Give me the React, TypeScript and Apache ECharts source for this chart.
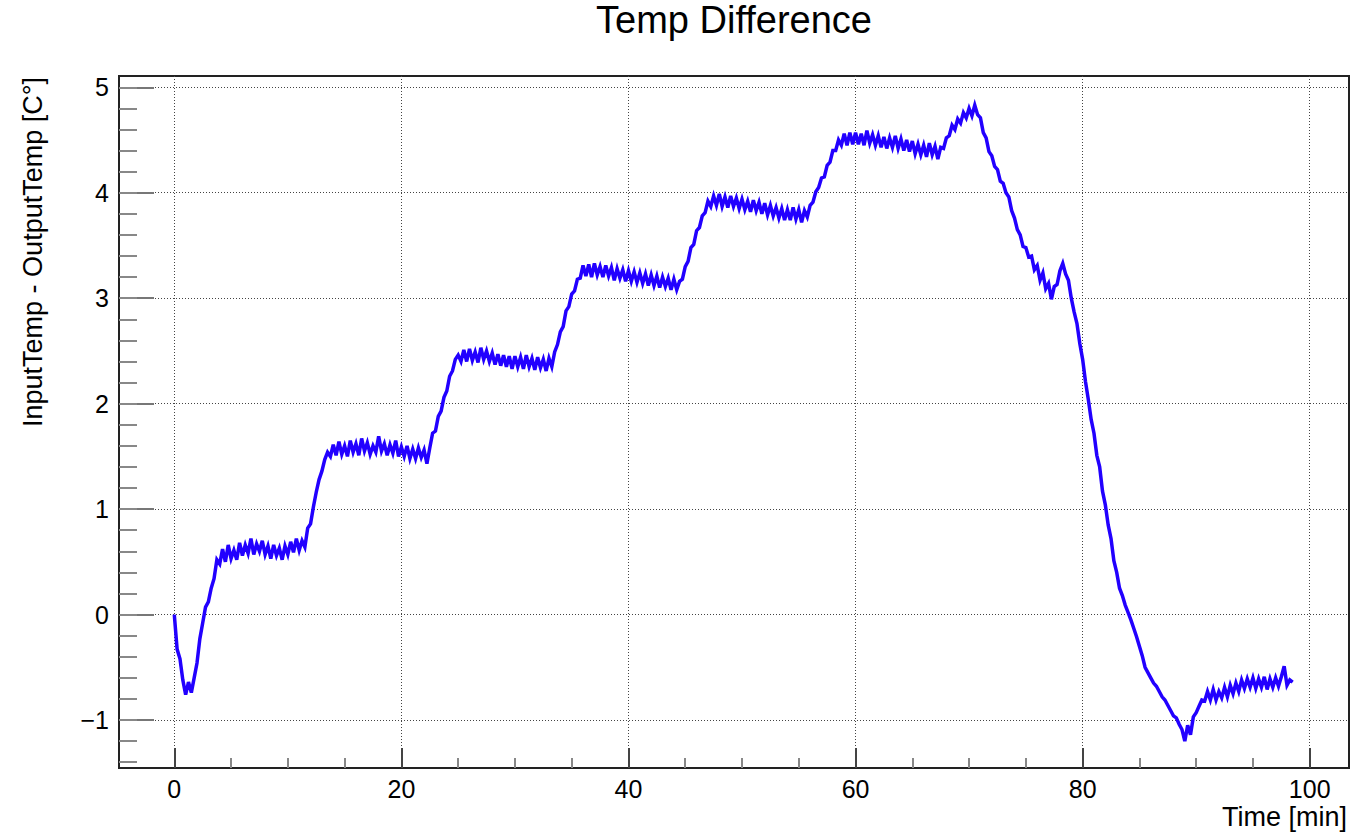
import React, { useEffect, useRef } from 'react';
import * as echarts from 'echarts';

// ---------------- data ----------------
const CHART_TITLE = 'Temp Difference';
const X_TITLE = 'Time [min]';
const Y_TITLE = 'InputTemp - OutputTemp [C°]';

// one sample every 0.25 min, starting at t = 0
const SAMPLE_STEP_MIN = 0.25;

const diff_00_10 = [
  0.0, -0.33, -0.42, -0.62, -0.76, -0.64, -0.74, -0.6, -0.46, -0.23,
  -0.08, 0.07, 0.12, 0.25, 0.34, 0.52, 0.48, 0.62, 0.5, 0.66,
  0.53, 0.61, 0.52, 0.68, 0.56, 0.66, 0.58, 0.72, 0.57, 0.67,
  0.6, 0.7, 0.57, 0.65, 0.53, 0.66, 0.56, 0.63, 0.52, 0.65,
];
const diff_10_20 = [
  0.57, 0.69, 0.59, 0.72, 0.61, 0.7, 0.64, 0.82, 0.86, 1.02,
  1.16, 1.28, 1.36, 1.47, 1.54, 1.5, 1.61, 1.51, 1.64, 1.52,
  1.6, 1.5, 1.65, 1.54, 1.62, 1.51, 1.67, 1.55, 1.63, 1.52,
  1.6, 1.54, 1.69, 1.55, 1.62, 1.51, 1.61, 1.53, 1.65, 1.5,
];
const diff_20_30 = [
  1.59, 1.5, 1.6, 1.48, 1.57, 1.48, 1.58, 1.49, 1.56, 1.43,
  1.58, 1.72, 1.74, 1.88, 1.93, 2.06, 2.12, 2.26, 2.31, 2.42,
  2.46, 2.4, 2.51, 2.4, 2.52, 2.41, 2.49, 2.39, 2.53, 2.42,
  2.5, 2.4, 2.48, 2.37, 2.47, 2.36, 2.46, 2.35, 2.45, 2.33,
];
const diff_30_40 = [
  2.45, 2.35, 2.44, 2.33, 2.46, 2.35, 2.43, 2.32, 2.44, 2.34,
  2.42, 2.31, 2.43, 2.35, 2.49, 2.56, 2.68, 2.73, 2.88, 2.92,
  3.04, 3.07, 3.18, 3.19, 3.31, 3.21, 3.32, 3.2, 3.33, 3.22,
  3.3, 3.2, 3.31, 3.21, 3.29, 3.17, 3.28, 3.19, 3.27, 3.16,
];
const diff_40_50 = [
  3.26, 3.16, 3.25, 3.15, 3.24, 3.14, 3.23, 3.12, 3.22, 3.12,
  3.21, 3.1, 3.2, 3.11, 3.19, 3.08, 3.18, 3.08, 3.16, 3.18,
  3.3, 3.35, 3.48, 3.51, 3.64, 3.67, 3.78, 3.81, 3.92, 3.87,
  3.97, 3.88, 3.99, 3.87, 3.96, 3.86, 3.97, 3.87, 3.95, 3.85,
];
const diff_50_60 = [
  3.94, 3.84, 3.92, 3.82, 3.93, 3.83, 3.91, 3.8, 3.9, 3.79,
  3.88, 3.78, 3.86, 3.76, 3.85, 3.74, 3.84, 3.74, 3.86, 3.75,
  3.84, 3.72, 3.83, 3.77, 3.88, 3.91, 4.01, 4.05, 4.14, 4.15,
  4.26, 4.29, 4.4, 4.4, 4.5, 4.45, 4.56, 4.45, 4.57, 4.46,
];
const diff_60_70 = [
  4.57, 4.46, 4.56, 4.45, 4.59, 4.47, 4.55, 4.45, 4.54, 4.43,
  4.53, 4.42, 4.52, 4.43, 4.54, 4.42, 4.51, 4.4, 4.5, 4.39,
  4.49, 4.37, 4.46, 4.36, 4.45, 4.34, 4.47, 4.36, 4.44, 4.32,
  4.43, 4.42, 4.52, 4.54, 4.64, 4.6, 4.7, 4.66, 4.76, 4.71,
];
const diff_70_80 = [
  4.8, 4.73, 4.83, 4.74, 4.71, 4.57, 4.52, 4.39, 4.35, 4.25,
  4.22, 4.11, 4.09, 4.0, 3.96, 3.83, 3.76, 3.65, 3.6, 3.49,
  3.48, 3.39, 3.4, 3.27, 3.31, 3.17, 3.24, 3.09, 3.14, 2.99,
  3.11, 3.13, 3.26, 3.33, 3.23, 3.17, 3.0, 2.87, 2.76, 2.57,
];
const diff_80_90 = [
  2.42, 2.21, 2.04, 1.85, 1.72, 1.51, 1.4, 1.17, 1.04, 0.85,
  0.72, 0.51, 0.4, 0.25, 0.18, 0.09, 0.02, -0.05, -0.13, -0.21,
  -0.3, -0.39, -0.5, -0.55, -0.6, -0.65, -0.68, -0.73, -0.78, -0.81,
  -0.86, -0.91, -0.96, -0.98, -1.04, -1.09, -1.2, -1.05, -1.14, -0.97,
];
const diff_90_985 = [
  -0.93, -0.87, -0.81, -0.82, -0.73, -0.81, -0.71, -0.81, -0.73, -0.79,
  -0.69, -0.78, -0.67, -0.75, -0.65, -0.73, -0.62, -0.7, -0.61, -0.69,
  -0.6, -0.7, -0.61, -0.69, -0.59, -0.71, -0.61, -0.69, -0.6, -0.68,
  -0.59, -0.49, -0.67, -0.62, -0.64,
];

const X_MAJOR_TICKS = [0, 20, 40, 60, 80, 100];
const Y_MAJOR_TICKS = [-1, 0, 1, 2, 3, 4, 5];
const Y_MINOR_RANGE = [-1.4, 5];
const Y_MINOR_STEP = 0.2;
const X_VIEW = [-4.87, 103.46];
const Y_VIEW = [-1.455, 5.107];

// ---------------- layout ----------------
const W = 1362;
const H = 833;
const FRAME = { left: 119, top: 76, right: 1349, bottom: 768 };
const FONT = "'Liberation Sans', Arial, Helvetica, sans-serif";
const LINE_COLOR = '#2200ff';

const px = (x: number) =>
  FRAME.left + ((x - X_VIEW[0]) / (X_VIEW[1] - X_VIEW[0])) * (FRAME.right - FRAME.left);
const py = (y: number) =>
  FRAME.bottom - ((y - Y_VIEW[0]) / (Y_VIEW[1] - Y_VIEW[0])) * (FRAME.bottom - FRAME.top);

const fmt = (v: number) => (v < 0 ? '\u2212' + Math.abs(v) : String(v));

export default function App() {
  const ref = useRef<HTMLDivElement>(null);

  useEffect(() => {
    if (!ref.current) return;
    const chart = echarts.init(ref.current, undefined, { renderer: 'svg' });

    const values = [
      ...diff_00_10, ...diff_10_20, ...diff_20_30, ...diff_30_40, ...diff_40_50,
      ...diff_50_60, ...diff_60_70, ...diff_70_80, ...diff_80_90, ...diff_90_985,
    ];
    const data = values.map((v, i) => [i * SAMPLE_STEP_MIN, v]);

    const xMin = X_MAJOR_TICKS[0];
    const xMax = X_MAJOR_TICKS[X_MAJOR_TICKS.length - 1];
    const yMin = Y_MAJOR_TICKS[0];
    const yMax = Y_MAJOR_TICKS[Y_MAJOR_TICKS.length - 1];

    const frameW = FRAME.right - FRAME.left;
    const frameH = FRAME.bottom - FRAME.top;

    const dotted = { color: '#444', width: 1, type: [1, 2] as any };
    const hidden = (gridIndex: number) => ({
      type: 'value' as const, gridIndex, min: 0, max: 1, show: false,
      axisLine: { onZero: false },
    });

    chart.setOption({
      animation: false,
      backgroundColor: '#fff',
      grid: [
        { left: FRAME.left, top: FRAME.top, width: frameW, height: frameH, show: true,
          borderColor: '#222', borderWidth: 2, backgroundColor: 'transparent', outerBoundsMode: 'none' },
        { left: px(xMin), top: FRAME.top, width: px(xMax) - px(xMin), height: frameH, outerBoundsMode: 'none' },
        { left: FRAME.left, top: py(yMax), width: frameW, height: py(yMin) - py(yMax), outerBoundsMode: 'none' },
        { left: FRAME.left, top: py(Y_MINOR_RANGE[1]), width: frameW,
          height: py(Y_MINOR_RANGE[0]) - py(Y_MINOR_RANGE[1]), outerBoundsMode: 'none' },
      ],
      xAxis: [
        { type: 'value', gridIndex: 0, min: X_VIEW[0], max: X_VIEW[1], show: false, axisLine: { onZero: false } },
        {
          type: 'value', gridIndex: 1, min: xMin, max: xMax, interval: 20,
          axisLine: { show: false, onZero: false },
          axisTick: { show: true, inside: true, length: 20, lineStyle: { color: '#444', width: 2 } },
          minorTick: { show: true, splitNumber: 4, length: 10, lineStyle: { color: '#888', width: 2 } },
          axisLabel: { show: true, margin: 11, color: '#000', fontFamily: FONT, fontSize: 25, lineHeight: 20 },
          splitLine: { show: true, lineStyle: dotted },
        },
        hidden(2),
        hidden(3),
      ],
      yAxis: [
        { type: 'value', gridIndex: 0, min: Y_VIEW[0], max: Y_VIEW[1], show: false, axisLine: { onZero: false } },
        hidden(1),
        {
          type: 'value', gridIndex: 2, min: yMin, max: yMax, interval: 1,
          axisLine: { show: false, onZero: false },
          axisTick: { show: true, inside: true, length: 35, lineStyle: { color: '#777', width: 2 } },
          axisLabel: { show: true, margin: 10, color: '#000', fontFamily: FONT, fontSize: 25, formatter: fmt },
          splitLine: { show: true, lineStyle: dotted },
        },
        {
          type: 'value', gridIndex: 3, min: Y_MINOR_RANGE[0], max: Y_MINOR_RANGE[1], interval: Y_MINOR_STEP,
          axisLine: { show: false, onZero: false },
          axisTick: { show: true, inside: true, length: 18, lineStyle: { color: '#888', width: 2 } },
          axisLabel: { show: false },
          splitLine: { show: false },
        },
      ],
      graphic: [
        {
          type: 'text', x: (FRAME.left + FRAME.right) / 2, y: 20,
          style: { text: CHART_TITLE, fill: '#000', font: `38px ${FONT}`, align: 'center', verticalAlign: 'middle' },
        },
        {
          type: 'text', x: FRAME.right - 2, y: 816.5,
          style: { text: X_TITLE, fill: '#000', font: `27px ${FONT}`, align: 'right', verticalAlign: 'middle' },
        },
        {
          type: 'text', x: 32.5, y: 77, rotation: Math.PI / 2,
          style: { text: Y_TITLE, fill: '#000', font: `27px ${FONT}`, align: 'right', verticalAlign: 'middle' },
        },
      ],
      series: [
        {
          type: 'line', xAxisIndex: 0, yAxisIndex: 0, data,
          symbol: 'none', showSymbol: false, silent: true, clip: true,
          lineStyle: { color: LINE_COLOR, width: 3.5, join: 'miter' },
        },
      ],
    });

    return () => chart.dispose();
  }, []);

  return (
    <div
      ref={ref}
      style={{ position: 'absolute', left: 0, top: 0, width: W, height: H, background: '#fff' }}
    />
  );
}
